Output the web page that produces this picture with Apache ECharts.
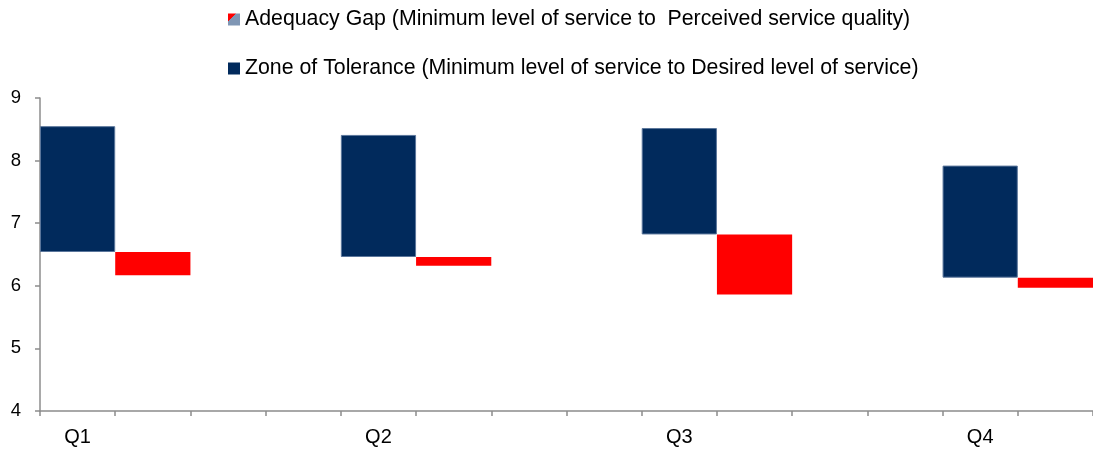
<!DOCTYPE html>
<html>
<head>
<meta charset="utf-8">
<script src="https://cdn.jsdelivr.net/npm/echarts@6/dist/echarts.min.js"></script>
<style>
html,body{margin:0;padding:0;background:#fff;}
#chart{width:1093px;height:451px;}
</style>
</head>
<body>
<div id="chart"></div>
<script>
const categories = ['Q1', 'Q2', 'Q3', 'Q4'];
const minimumLevel = [6.54, 6.46, 6.82, 6.13];
const desiredLevel = [8.55, 8.41, 8.52, 7.92];
const perceivedQuality = [6.17, 6.32, 5.86, 5.97];
const yTicks = [4, 5, 6, 7, 8, 9];
const gapName = 'Adequacy Gap (Minimum level of service to  Perceived service quality)';
const zoneName = 'Zone of Tolerance (Minimum level of service to Desired level of service)';

// Each quarter occupies 4 category slots: zone bar, gap bar, two empty slots (last quarter has no trailing gap)
const slotCount = (categories.length - 1) * 4 + 2;
const slotLabels = new Array(slotCount).fill('');
const baseData = new Array(slotCount).fill(null);
const zoneData = new Array(slotCount).fill(null);
const gapData = new Array(slotCount).fill(null);
categories.forEach((c, q) => {
  const s = q * 4;
  slotLabels[s] = c;
  baseData[s] = minimumLevel[q];
  zoneData[s] = +(desiredLevel[q] - minimumLevel[q]).toFixed(4);
  baseData[s + 1] = perceivedQuality[q];
  gapData[s + 1] = +(minimumLevel[q] - perceivedQuality[q]).toFixed(4);
});

const chart = echarts.init(document.getElementById('chart'), null, {renderer: 'canvas'});
const fontFamily = '"Liberation Sans", Arial, sans-serif';
chart.setOption({
  animation: false,
  backgroundColor: '#ffffff',
  textStyle: {fontFamily: fontFamily},
  legend: [
    {
      data: [{name: gapName, itemStyle: {borderWidth: 0, color: new echarts.graphic.LinearGradient(0, 0, 1, 1, [
        {offset: 0, color: '#ff0000'}, {offset: 0.35, color: '#ff0000'},
        {offset: 0.35, color: '#7f96b4'}, {offset: 1, color: '#7f96b4'}])}}],
      left: 228, top: 9, padding: 0,
      itemWidth: 12, itemHeight: 12, icon: 'rect',
      textStyle: {fontSize: 21.3, color: '#000', fontFamily: fontFamily}
    },
    {
      data: [{name: zoneName, itemStyle: {borderWidth: 0, color: '#012a5c'}}],
      left: 228, top: 58, padding: 0,
      itemWidth: 12, itemHeight: 12, icon: 'rect',
      textStyle: {fontSize: 21.3, color: '#000', fontFamily: fontFamily}
    }
  ],
  grid: {left: 40, right: 0, top: 98, bottom: 40, containLabel: false},
  xAxis: {
    type: 'category',
    data: slotLabels,
    boundaryGap: true,
    axisLine: {lineStyle: {color: '#8c8c8c', width: 1.5}},
    axisTick: {show: true, interval: 0, length: 5, lineStyle: {color: '#8c8c8c', width: 1.5}},
    axisLabel: {interval: 0, fontSize: 20, color: '#000', margin: 16, fontFamily: fontFamily},
    splitLine: {show: false}
  },
  yAxis: {
    type: 'value',
    min: yTicks[0],
    max: yTicks[yTicks.length - 1],
    interval: 1,
    axisLine: {show: true, lineStyle: {color: '#8c8c8c', width: 1.5}},
    axisTick: {show: true, length: 5, lineStyle: {color: '#8c8c8c', width: 1.5}},
    axisLabel: {fontSize: 18.5, color: '#000', margin: 19, fontFamily: fontFamily},
    splitLine: {show: false}
  },
  series: [
    {
      name: 'base', type: 'bar', stack: 'range', data: baseData,
      barWidth: '100%', barCategoryGap: 0, silent: true,
      itemStyle: {color: 'rgba(0,0,0,0)'}
    },
    {
      name: zoneName, type: 'bar', stack: 'range', data: zoneData,
      barWidth: '100%', barCategoryGap: 0,
      itemStyle: {color: '#012a5c', borderColor: '#5b769b', borderWidth: 1}
    },
    {
      name: gapName, type: 'bar', stack: 'range', data: gapData,
      barWidth: '100%', barCategoryGap: 0,
      itemStyle: {color: '#ff0000'}
    }
  ]
});
</script>
</body>
</html>
